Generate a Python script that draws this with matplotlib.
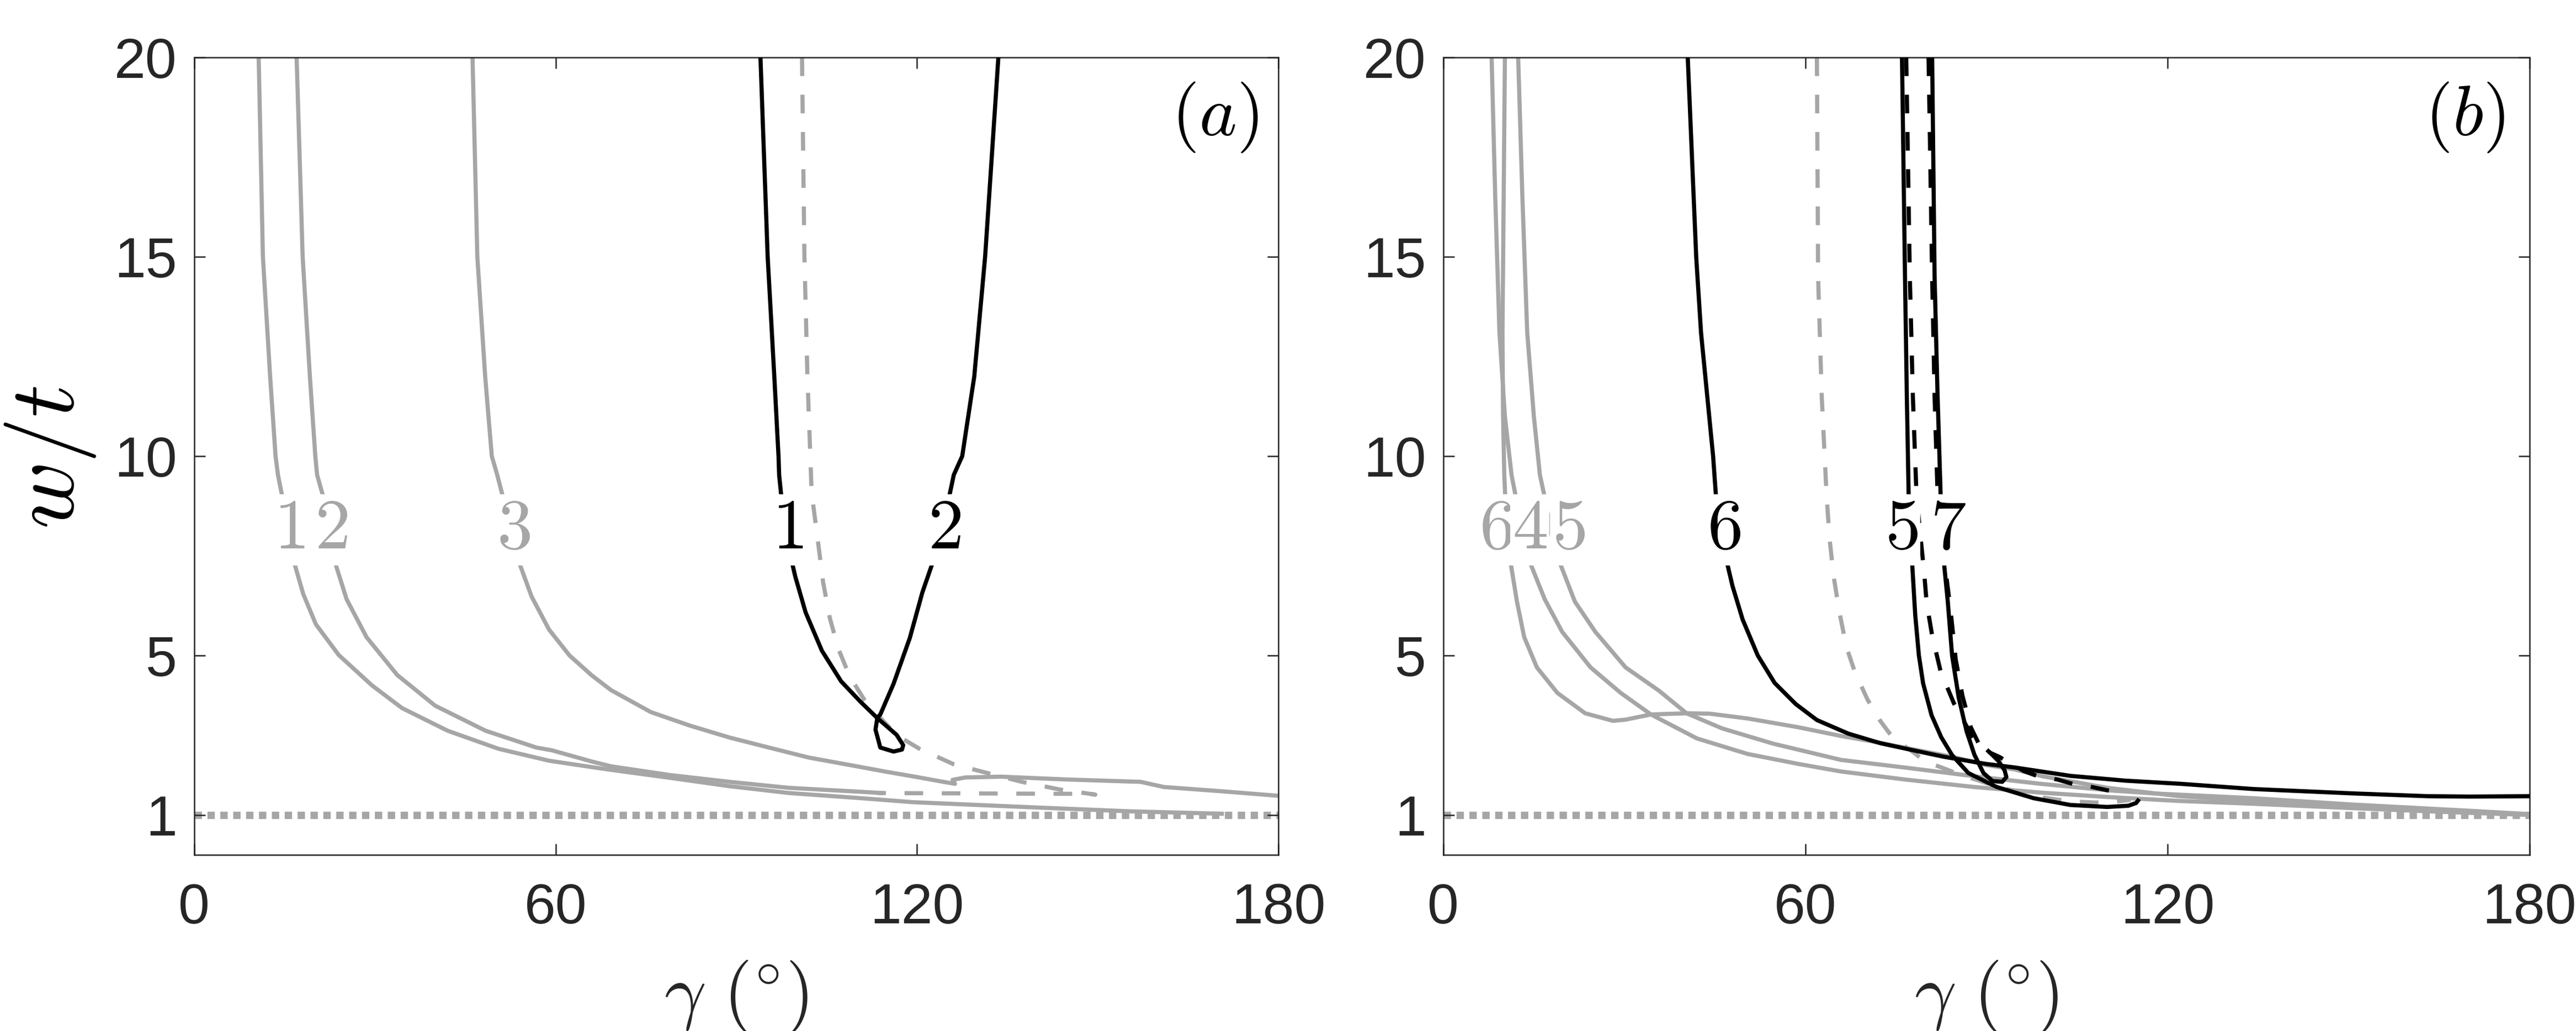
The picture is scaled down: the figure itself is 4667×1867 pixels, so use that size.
import matplotlib
matplotlib.use("Agg")
import matplotlib.pyplot as plt

plt.rcParams['font.family'] = ['Liberation Sans', 'DejaVu Sans']
plt.rcParams['mathtext.fontset'] = 'cm'

# ---------------- data: panel (a) ----------------
X_TICKS = [0, 60, 120, 180]
Y_TICKS = [1, 5, 10, 15, 20]
REF_X = [0, 180]
REF_Y = [1, 1]

a_gray1_x = [10.7, 11.4, 12.6, 13.5, 13.9, 14.9, 15.7, 16.4, 18.1, 20.2, 24.0, 29.5, 34.5, 42.1, 50.5,
             58.9, 66.0, 69.2, 79.0, 88.9, 98.7, 110.7, 119.3, 139.3, 155.5, 170.6]
a_gray1_y = [20, 15, 12, 10, 9.53, 8.77, 8.1, 7.43, 6.54, 5.78, 5.01, 4.25, 3.68, 3.11, 2.66,
             2.36, 2.2, 2.13, 1.93, 1.72, 1.55, 1.42, 1.32, 1.19, 1.09, 1.03]

a_gray2_x = [17.0, 18.0, 19.2, 20.1, 20.4, 21.7, 22.3, 22.9, 25.3, 28.6, 33.7, 40.0, 48.4, 56.8, 59.4,
             66.0, 69.2, 79.0, 88.9, 98.7, 110.7, 114.0]
a_gray2_y = [20, 15, 12, 10, 9.53, 8.83, 8.1, 7.56, 6.41, 5.46, 4.51, 3.74, 3.11, 2.69, 2.62,
             2.34, 2.22, 2.0, 1.83, 1.68, 1.58, 1.55]

a_gray3_x = [46.2, 47.0, 48.3, 49.4, 50.3, 51.6, 52.6, 53.7, 56.0, 58.9, 62.3, 66.0, 69.2, 75.8, 82.3,
             88.9, 95.4, 102.0, 110.7, 115.0, 120.0, 124.0, 126.3, 125.9, 128.0, 133.9, 144.7, 157.1,
             159.8, 161.0, 170.0, 180.0]
a_gray3_y = [20, 15, 12, 10, 9.53, 8.77, 8.1, 7.43, 6.48, 5.65, 5.0, 4.5, 4.13, 3.58, 3.24,
             2.94, 2.69, 2.44, 2.2, 2.08, 1.95, 1.84, 1.78, 1.88, 1.94, 1.96, 1.89, 1.83,
             1.74, 1.70, 1.60, 1.48]

a_black_x = [94.0, 95.2, 96.3, 97.0, 97.1, 98.0, 99.0, 99.8, 101.5, 104.2, 107.4, 110.6, 113.4, 116.6,
             117.7, 117.5, 116.1, 113.9, 113.1, 113.4, 113.9, 116.1, 118.8, 120.9, 123.1, 124.3, 125.2,
             126.1, 127.5, 129.5, 131.3, 133.5]
a_black_y = [20, 15, 12, 10, 9.53, 8.2, 7.48, 6.97, 6.08, 5.12, 4.35, 3.84, 3.43, 3.01,
             2.75, 2.64, 2.59, 2.69, 3.14, 3.43, 3.52, 4.29, 5.44, 6.59, 7.55, 8.2, 8.89,
             9.53, 10, 12, 15, 20]

a_dash_x = [100.9, 101.3, 101.8, 102.5, 103.6, 104.4, 105.5, 106.9, 108.8, 111.2, 113.4, 116.6, 120.4,
            126.1, 131.7, 137.4, 143.6, 149.6, 148.5, 144.7, 136.0, 128.5, 120.0, 113.4]
a_dash_y = [20, 15, 12, 9.08, 7.8, 6.84, 5.95, 5.18, 4.48, 3.9, 3.52, 3.0, 2.66,
            2.27, 2.05, 1.83, 1.64, 1.51, 1.53, 1.53, 1.535, 1.54, 1.545, 1.55]

# ---------------- data: panel (b) ----------------
b_gray6_x = [10.2, 10.0, 9.8, 9.9, 10.1, 10.3, 10.7, 11.1, 12.2, 13.4, 15.5, 18.9, 23.5, 28.1, 30.2,
             34.4, 40.3, 44.1, 50.4, 58.8, 65.9, 72.0, 78.0, 84.6, 90.0, 94.7, 99.3, 110.0, 122.0,
             150.0, 180.0]
b_gray6_y = [20, 16.5, 13.1, 11, 9.53, 8.83, 8.1, 7.37, 6.35, 5.46, 4.7, 4.06, 3.55, 3.36, 3.39,
             3.52, 3.55, 3.54, 3.42, 3.2, 2.98, 2.82, 2.64, 2.45, 2.25, 2.14, 1.97, 1.68, 1.47,
             1.2, 1.0]

b_gray4_x = [8.0, 8.6, 9.3, 10.2, 11.3, 12.2, 13.1, 14.1, 16.8, 19.7, 24.4, 29.4, 34.4, 42.0, 50.4,
             58.8, 65.9, 76.4, 88.0, 99.0, 110.0, 122.0, 134.2, 150.7, 165.0, 180.0]
b_gray4_y = [20, 16.5, 13.1, 11, 9.53, 8.83, 8.1, 7.43, 6.41, 5.59, 4.7, 4.06, 3.52, 2.92, 2.53,
             2.28, 2.09, 1.89, 1.7, 1.56, 1.45, 1.35, 1.28, 1.17, 1.08, 1.0]

b_gray5_x = [12.4, 13.1, 13.9, 15.0, 16.0, 17.0, 17.8, 18.7, 21.8, 25.2, 30.2, 35.7, 40.3, 46.2, 54.6,
             65.9, 76.4, 88.0, 99.0, 110.0, 117.6, 134.2, 150.7, 170.6, 180.0]
b_gray5_y = [20, 16.5, 13.1, 11, 9.53, 8.83, 8.1, 7.56, 6.35, 5.59, 4.7, 4.12, 3.55, 3.17, 2.79,
             2.38, 2.19, 1.97, 1.78, 1.62, 1.54, 1.42, 1.26, 1.1, 1.02]

b_black6_x = [40.5, 41.9, 42.7, 44.7, 45.6, 46.8, 47.9, 49.6, 52.1, 54.9, 58.4, 61.9, 67.1, 72.4, 77.6,
              82.9, 89.9, 94.7, 103.9, 113.0, 122.2, 134.2, 150.7, 163.1, 170.0, 180.0]
b_black6_y = [20, 15, 13.1, 10, 8.1, 7.46, 6.75, 5.9, 5.0, 4.31, 3.78, 3.38, 3.04, 2.8, 2.63,
              2.46, 2.28, 2.19, 1.98, 1.86, 1.78, 1.65, 1.54, 1.47, 1.46, 1.47]

b_dashg_x = [61.9, 62.1, 62.7, 63.5, 64.0, 64.7, 65.6, 66.8, 68.2, 70.3, 72.4, 74.5, 78.0, 79.7, 82.9,
             85.3, 92.0, 99.6, 101.9, 105.4, 108.1, 111.2, 113.9]
b_dashg_y = [20, 14.5, 11.5, 9.03, 7.92, 6.96, 6.11, 5.21, 4.58, 3.89, 3.36, 2.93, 2.56, 2.35, 2.17,
             2.03, 1.7, 1.43, 1.38, 1.33, 1.31, 1.33, 1.38]

b_black5_x = [76.0, 76.5, 76.8, 77.1, 77.6, 78.2, 78.8, 79.5, 80.9, 82.5, 84.3, 87.0, 91.7, 97.8, 103.9,
              110.0, 113.5, 114.8, 115.1]
b_black5_y = [20, 14.5, 11.5, 9.03, 7.52, 6.0, 5.0, 4.3, 3.5, 2.95, 2.5, 2.05, 1.70, 1.42, 1.25,
              1.20, 1.23, 1.30, 1.36]

b_black7_x = [81.0, 81.4, 81.9, 82.4, 82.9, 83.6, 84.3, 85.4, 86.7, 88.0, 89.5, 91.0, 92.6, 93.3, 93.0,
              92.0, 90.6]
b_black7_y = [20, 14.5, 11.5, 9.03, 7.41, 6.33, 5.0, 3.94, 3.1, 2.51, 2.05, 1.85, 1.83, 1.95, 2.12,
              2.35, 2.56]

b_dash1_x = [76.7, 77.3, 77.8, 78.4, 79.0, 79.6, 80.1, 81.0, 82.4, 84.6, 87.6, 90.6, 92.2, 93.5, 96.2,
             98.7, 101.7, 104.5, 107.5, 110.3, 113.2]
b_dash1_y = [20, 14.5, 11.5, 9.03, 8.07, 7.2, 6.3, 5.5, 4.6, 3.8, 2.98, 2.56, 2.45, 2.33, 2.10,
             1.96, 1.89, 1.77, 1.70, 1.61, 1.52]

b_dash2_x = [80.4, 81.0, 81.4, 81.9, 83.0, 84.0, 84.9, 86.0, 87.4, 89.0, 90.5]
b_dash2_y = [20, 14.5, 11.5, 9.03, 7.4, 6.2, 4.9, 4.0, 3.2, 2.7, 2.45]

# curve labels: (text, gamma, w/t, colour key)
a_labels = [("1", 15.8, 8.15, "g"), ("2", 22.7, 8.15, "g"), ("3", 53.0, 8.15, "g"),
            ("1", 98.5, 8.15, "k"), ("2", 124.5, 8.15, "k")]
b_labels = [("6", 8.7, 8.15, "g"), ("4", 14.3, 8.15, "g"), ("5", 20.8, 8.15, "g"),
            ("6", 46.5, 8.15, "k"), ("5", 75.9, 8.15, "k"), ("7", 83.6, 8.15, "k")]

# ---------------- styling ----------------
GRAY = '#a6a6a6'
BLACK = '#000000'
AX_COL = '#262626'
LW = 1.8
DASH = (4.5, 4.5)
COLORS = {"g": GRAY, "k": BLACK}

W, H, DPI = 4667, 1867, 300
fig = plt.figure(figsize=(W / DPI, H / DPI), dpi=DPI)
ax_a = fig.add_axes([0.0754, 0.1709, 0.4209, 0.7734])
ax_b = fig.add_axes([0.5603, 0.1709, 0.4217, 0.7734])


def style(ax):
    ax.set_xlim(0, 180)
    ax.set_ylim(0, 20)
    ax.set_xticks(X_TICKS)
    ax.set_yticks(Y_TICKS)
    ax.set_xticklabels([str(v) for v in X_TICKS])
    ax.set_yticklabels([str(v) for v in Y_TICKS])
    ax.tick_params(direction='in', length=4.7, width=0.6, top=True, right=True,
                   labelsize=24.5, color=AX_COL, labelcolor=AX_COL)
    ax.tick_params(axis='x', pad=12)
    ax.tick_params(axis='y', pad=7.5)
    for sp in ax.spines.values():
        sp.set_color(AX_COL)
        sp.set_linewidth(0.6)


def ref_line(ax):
    ax.plot(REF_X, REF_Y, color=GRAY, lw=3.2, linestyle=(0, (1.0, 0.75)),
            dash_capstyle='butt', solid_capstyle='butt', zorder=1)


def labels(ax, lab):
    for t, x, y, c in lab:
        ax.text(x, y, '$' + t + '$', fontsize=31, color=COLORS[c], ha='center', va='center',
                bbox=dict(facecolor='white', edgecolor='none', pad=1.0), zorder=6)


# panel (a)
style(ax_a)
ref_line(ax_a)
ax_a.plot(a_gray1_x, a_gray1_y, color=GRAY, lw=LW, zorder=2)
ax_a.plot(a_gray2_x, a_gray2_y, color=GRAY, lw=LW, zorder=2)
ax_a.plot(a_gray3_x, a_gray3_y, color=GRAY, lw=LW, zorder=2)
ax_a.plot(a_dash_x, a_dash_y, color=GRAY, lw=LW, dashes=DASH, zorder=2)
ax_a.plot(a_black_x, a_black_y, color=BLACK, lw=LW, zorder=3)
labels(ax_a, a_labels)
ax_a.text(169.4, 18.5, r'$(a)$', fontsize=31, color='black', ha='center', va='center')

# panel (b)
style(ax_b)
ref_line(ax_b)
ax_b.plot(b_gray4_x, b_gray4_y, color=GRAY, lw=LW, zorder=2)
ax_b.plot(b_gray5_x, b_gray5_y, color=GRAY, lw=LW, zorder=2)
ax_b.plot(b_gray6_x, b_gray6_y, color=GRAY, lw=LW, zorder=2)
ax_b.plot(b_dashg_x, b_dashg_y, color=GRAY, lw=LW, dashes=DASH, zorder=2)
ax_b.plot(b_black6_x, b_black6_y, color=BLACK, lw=LW, zorder=3)
ax_b.plot(b_black5_x, b_black5_y, color=BLACK, lw=LW, zorder=3)
ax_b.plot(b_black7_x, b_black7_y, color=BLACK, lw=LW, zorder=3)
ax_b.plot(b_dash1_x, b_dash1_y, color=BLACK, lw=LW, dashes=DASH, zorder=3)
ax_b.plot(b_dash2_x, b_dash2_y, color=BLACK, lw=LW, dashes=DASH, zorder=3)
labels(ax_b, b_labels)
ax_b.text(169.3, 18.5, r'$(b)$', fontsize=31, color='black', ha='center', va='center')

# axis labels
fig.text(0.0195, 0.5565, r'$w/t$', fontsize=40, rotation=90, ha='center', va='center', color='black')
XLAB = r'$\gamma\ ({}^{\circ})$'
fig.text(0.2859, 0.070, XLAB, fontsize=32, ha='center', va='top', color=AX_COL)
fig.text(0.7712, 0.070, XLAB, fontsize=32, ha='center', va='top', color=AX_COL)

fig.savefig('out.png', dpi=DPI)
